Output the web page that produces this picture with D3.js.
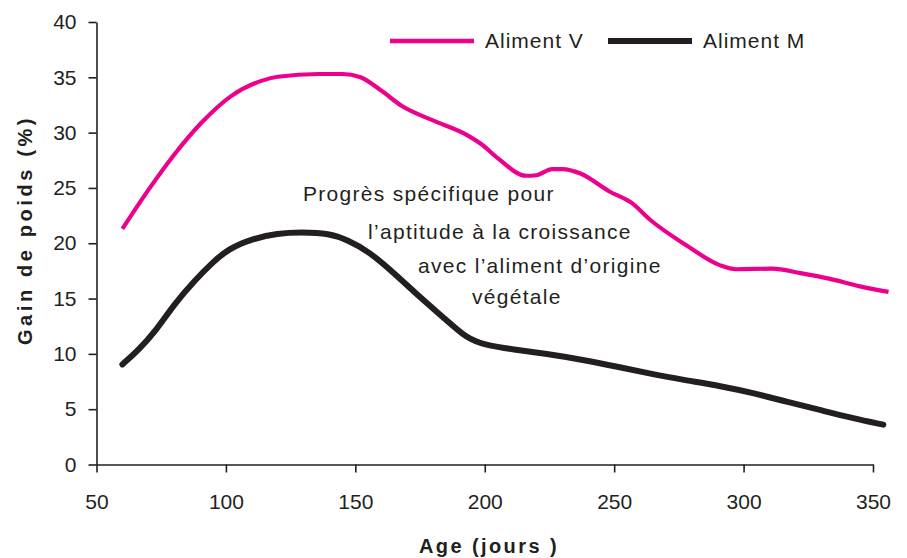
<head>
	<meta charset="utf-8">
	<script src="https://d3js.org/d3.v7.min.js"></script>
	<style>
		body { margin: 0; background: #fff; }
		text { font-family: "Liberation Sans", Arial, sans-serif; fill: #231f20; }
		.tick text { font-size: 21px; }
		.axis path, .axis line { stroke: #231f20; stroke-width: 1.6px; }
		.title { font-size: 20px; font-weight: bold; letter-spacing: 2.4px; }
		.ytitle { letter-spacing: 3.6px; }
		.note { font-size: 21px; letter-spacing: 1.3px; }
		.legend text { font-size: 21px; letter-spacing: 1px; }
	</style>
</head>
<body>

<svg width="907" height="558" id="chart"></svg>

<script>

	// Aliment V (pink)
	var agesV = [60, 70, 80, 91, 102, 114, 120, 136, 145, 152, 160, 168, 180, 193, 199, 205, 216, 220, 226, 230, 237, 248, 257, 264, 278, 291, 297, 311, 322, 333, 345, 356];
	var gainV = [21.3, 24.8, 28.0, 31.0, 33.3, 34.7, 35.05, 35.3, 35.3, 35.0, 33.8, 32.4, 31.1, 29.8, 28.9, 27.7, 26.1, 26.15, 26.7, 26.7, 26.3, 24.7, 23.6, 22.1, 19.8, 18.0, 17.65, 17.7, 17.3, 16.8, 16.1, 15.6];

	// Aliment M (black)
	var agesM = [60, 66, 73, 80, 88, 95, 101, 110, 120, 129, 140, 147, 155, 165, 175, 185, 193, 200, 211, 224, 237, 252, 265, 278, 291, 304, 317, 330, 342, 354];
	var gainM = [9.05, 10.3, 12.1, 14.5, 16.65, 18.3, 19.5, 20.4, 20.9, 21.0, 20.9, 20.3, 19.3, 17.3, 15.1, 13.1, 11.4, 10.8, 10.4, 10.0, 9.5, 8.8, 8.15, 7.6, 7.1, 6.45, 5.65, 4.9, 4.2, 3.6];

	var xTicks = [50, 100, 150, 200, 250, 300, 350];
	var yTicks = [0, 5, 10, 15, 20, 25, 30, 35, 40];

	var seriesNames = ["Aliment V", "Aliment M"];
	var noteLines = ["Progrès spécifique pour", "l\u2019aptitude à la croissance", "avec l\u2019aliment d\u2019origine", "végétale"];

	var svg = d3.select("#chart");

	var x = d3.scaleLinear().domain([50, 350]).range([96.5, 873]);
	var y = d3.scaleLinear().domain([0, 40]).range([464.5, 22]);

	svg.append("g")
		.attr("class", "axis")
		.attr("transform", "translate(0," + y(0) + ")")
		.call(d3.axisBottom(x).tickValues(xTicks).tickSize(8).tickSizeOuter(0).tickPadding(22))
		.call(g => g.selectAll(".tick text").attr("fill", "#231f20"));

	svg.append("g")
		.attr("class", "axis")
		.attr("transform", "translate(" + x(50) + ",0)")
		.call(d3.axisLeft(y).tickValues(yTicks).tickSize(8).tickSizeOuter(0).tickPadding(12))
		.call(g => g.selectAll(".tick text").attr("fill", "#231f20"));

	var lineV = d3.line()
		.x((d, i) => x(agesV[i]))
		.y(d => y(d))
		.curve(d3.curveMonotoneX);

	var lineM = d3.line()
		.x((d, i) => x(agesM[i]))
		.y(d => y(d))
		.curve(d3.curveBasis);

	svg.append("path")
		.attr("d", lineV(gainV))
		.attr("fill", "none")
		.attr("stroke", "#ec008c")
		.attr("stroke-width", 4.2)
		.attr("stroke-linejoin", "round");

	svg.append("path")
		.attr("d", lineM(gainM))
		.attr("fill", "none")
		.attr("stroke", "#231f20")
		.attr("stroke-width", 6)
		.attr("stroke-linecap", "round")
		.attr("stroke-linejoin", "round");

	// legend
	var legendX = [390, 608];
	var colors = ["#ec008c", "#231f20"];
	var widths = [4.5, 6];

	var legend = svg.selectAll(".legend")
		.data(seriesNames)
		.enter().append("g")
		.attr("class", "legend")
		.attr("transform", (d, i) => `translate(${legendX[i]},41)`);

	legend.append("line")
		.attr("x1", 0)
		.attr("x2", 84)
		.attr("stroke", (d, i) => colors[i])
		.attr("stroke-width", (d, i) => widths[i]);

	legend.append("text")
		.attr("x", 95)
		.attr("y", 7)
		.text(d => d);

	// annotation
	var noteX = [303, 368, 418, 472];
	var noteY = [201, 239, 273, 304];

	svg.selectAll(".note")
		.data(noteLines)
		.enter().append("text")
		.attr("class", "note")
		.attr("x", (d, i) => noteX[i])
		.attr("y", (d, i) => noteY[i])
		.text(d => d);

	// axis titles
	svg.append("text")
		.attr("class", "title")
		.attr("text-anchor", "middle")
		.attr("x", 489)
		.attr("y", 553)
		.text("Age (jours )");

	svg.append("text")
		.attr("class", "title ytitle")
		.attr("text-anchor", "middle")
		.attr("transform", "translate(32,230) rotate(-90)")
		.text("Gain de poids (%)");

</script>
</body>
